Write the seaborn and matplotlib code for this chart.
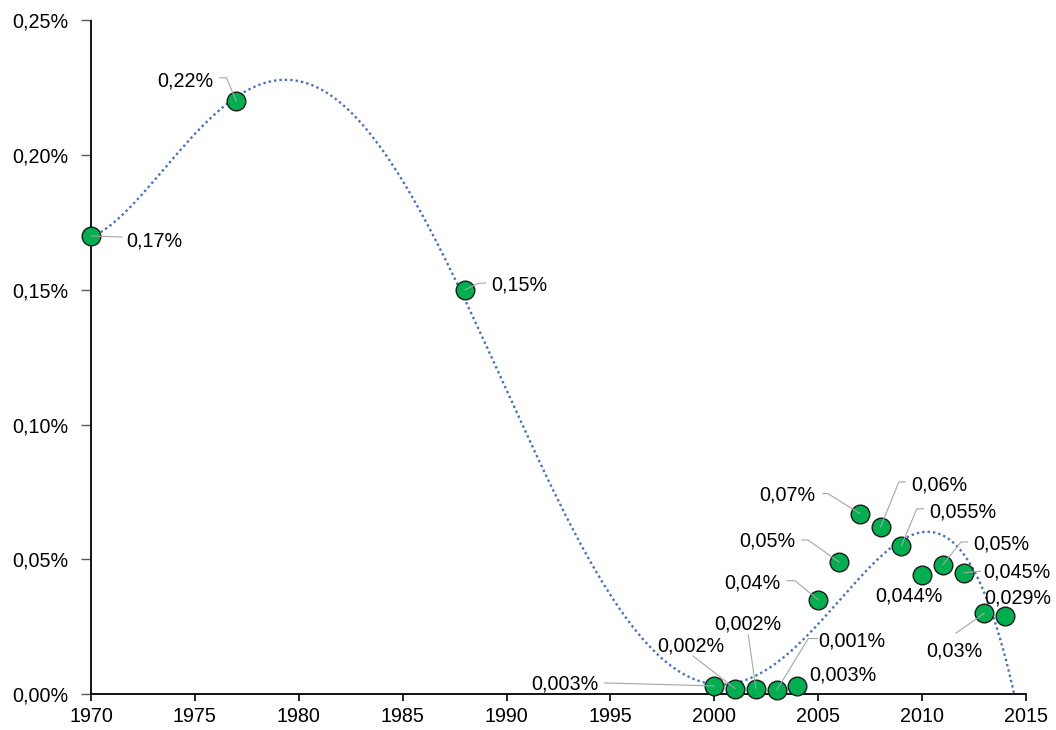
import numpy as np
import pandas as pd
import matplotlib
matplotlib.use("Agg")
import matplotlib.pyplot as plt
import seaborn as sns
from matplotlib.ticker import FuncFormatter, MultipleLocator
from matplotlib.lines import Line2D
from matplotlib.transforms import IdentityTransform

# ---- data -------------------------------------------------------------
years = [1970, 1977, 1988, 2000, 2001, 2002, 2003, 2004, 2005,
         2006, 2007, 2008, 2009, 2010, 2011, 2012, 2013, 2014]
rates = [0.170, 0.220, 0.150, 0.003, 0.002, 0.002, 0.0014, 0.003, 0.035,
         0.049, 0.067, 0.062, 0.055, 0.044, 0.048, 0.045, 0.030, 0.029]
value_labels = ["0,17%", "0,22%", "0,15%", "0,003%", "0,002%", "0,002%",
                "0,001%", "0,003%", "0,04%", "0,05%", "0,07%", "0,06%",
                "0,055%", "0,044%", "0,05%", "0,045%", "0,03%", "0,029%"]

# ---- label layout (pixels from marker centre, x right / y up) ---------
label_offsets = [(35, -3), (-23.5, 22), (26, 6), (-116, 3), (-44, 44.6),
                 (-8.4, 66.6), (41.3, 51), (11.5, 12.3), (-37.3, 18),
                 (-44, 22), (-44, 19.6), (30.3, 43.5), (27.5, 35),
                 (-12.7, -19.5), (30, 21.7), (20, 1.8), (-30, -36), (12.6, 19)]
label_align = ["left", "right", "left", "right", "center", "center", "left",
               "left", "right", "right", "right", "left", "left", "center",
               "left", "left", "center", "center"]
leaders = [
    [(31, -1), (0, 0)],
    [(-17, 23.5), (-10, 23.5), (0, 0)],
    [(21, 7), (13, 6.5), (0, 0)],
    [(-110, 3), (0, 0)],
    [(-42, 32.6), (0, 0)],
    [(-7.6, 53.6), (0, 0)],
    [(41, 51.7), (31.6, 51.7), (0, 0)],
    None,
    [(-31.6, 19), (-23.3, 19), (0, 0)],
    [(-37.5, 22), (-31, 22), (0, 0)],
    [(-37, 20), (-32, 20), (0, 0)],
    [(25, 45), (18.3, 45), (0, 0)],
    [(22.5, 37), (15.5, 37), (0, 0)],
    None,
    [(25, 22.7), (18, 22.7), (0, 0)],
    [(17, 1.5), (0, 0)],
    [(-28.6, -20), (0, 0)],
    None,
]

# ---- style ------------------------------------------------------------
sns.set_theme(style="white")
plt.rcParams["font.family"] = ["Liberation Sans", "DejaVu Sans"]
FS = 14.2

fig = plt.figure(figsize=(10.56, 7.30), dpi=100)
ax = fig.add_axes([91 / 1056, 36 / 730, 935 / 1056, 673.5 / 730])

df = pd.DataFrame({"year": years, "rate": rates})

# polynomial trend line (order 5) through all observations
coef = np.polyfit(df["year"] - 1970, df["rate"], 5)
xs = np.linspace(1970, 2015, 800)
trend = pd.DataFrame({"year": xs, "rate": np.polyval(coef, xs - 1970)})
sns.lineplot(data=trend, x="year", y="rate", ax=ax, color="#4472C4",
             linewidth=1.7, linestyle=(0, (1, 1.3)), zorder=2)

sns.scatterplot(data=df, x="year", y="rate", ax=ax, s=180, color="#00B050",
                edgecolor="#1a1a1a", linewidth=1.0, zorder=3, clip_on=False)

ax.set_xlim(1970, 2015)
ax.set_ylim(0, 0.25)
ax.xaxis.set_major_locator(MultipleLocator(5))
ax.yaxis.set_major_locator(MultipleLocator(0.05))
ax.yaxis.set_major_formatter(
    FuncFormatter(lambda v, _: f"{v:.2f}%".replace(".", ",")))
ax.set_xlabel("")
ax.set_ylabel("")
ax.grid(False)

sns.despine(ax=ax)
for side in ("left", "bottom"):
    ax.spines[side].set_color("black")
    ax.spines[side].set_linewidth(1.3)

ax.tick_params(axis="y", left=True, length=7, width=1, color="#595959",
               pad=9, labelsize=FS, labelcolor="black")
ax.tick_params(axis="x", bottom=True, length=5, width=1.2, color="black",
               pad=4, labelsize=FS, labelcolor="black")

# ---- value labels and leader lines -------------------------------------
for yr, v, txt, (dx, dy), ha, lead in zip(years, rates, value_labels,
                                          label_offsets, label_align, leaders):
    ax.annotate(txt, xy=(yr, v), xytext=(dx, dy - 7),
                textcoords="offset pixels", ha=ha, va="baseline",
                fontsize=FS, color="black", zorder=5, annotation_clip=False)
    if lead is None:
        continue
    px, py = ax.transData.transform((yr, v))
    lx = [px + ox for ox, oy in lead]
    ly = [py + oy for ox, oy in lead]
    fig.add_artist(Line2D(lx, ly, transform=IdentityTransform(),
                          color="#A6A6A6", linewidth=0.8, zorder=4))

fig.savefig("out.png", dpi=100)
